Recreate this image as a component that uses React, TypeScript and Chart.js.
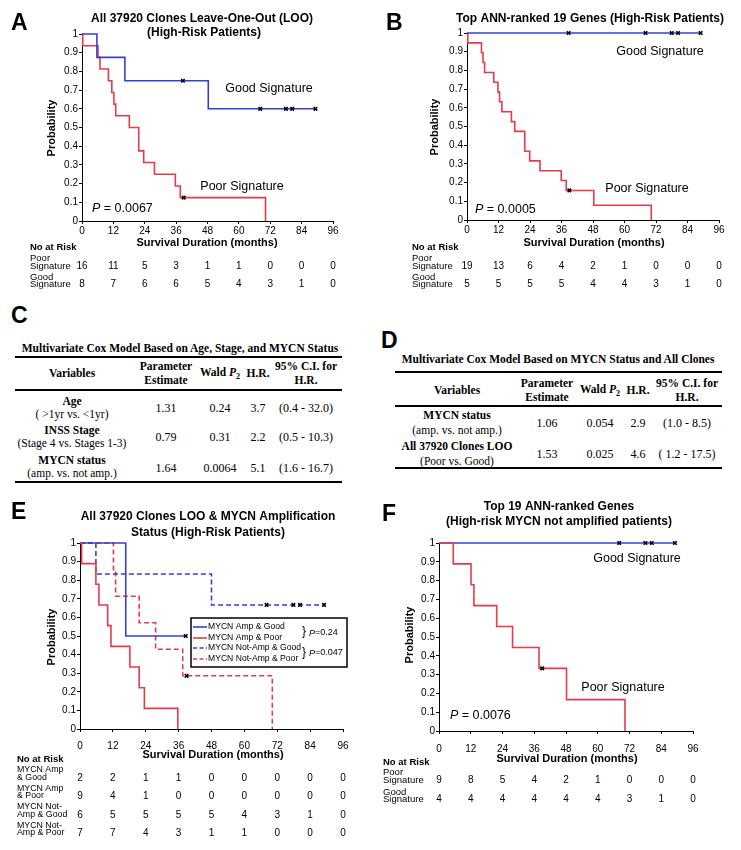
import React, { useEffect, useRef } from 'react';
import { Chart, registerables } from 'chart.js';

Chart.register(...registerables);

const SANS = '"Liberation Sans", Arial, Helvetica, sans-serif';
const SERIF = '"Liberation Serif", "Times New Roman", serif';
const BLUE = '#3542d0';
const RED = '#e83a4a';

// ---------- shared ----------
const MONTHS = [0, 12, 24, 36, 48, 60, 72, 84, 96];

// ---------- Panel A ----------
const A_GOOD_T = [0, 5.7, 16.4, 48.3, 89.3];
const A_GOOD_S = [1, 0.875, 0.75, 0.6, 0.6];
const A_GOOD_CENSOR = [38.6, 68.2, 78.0, 80.4, 89.3];
const A_POOR_T = [0, 0.3, 6.1, 6.9, 10.1, 11.4, 12.2, 12.9, 18.1, 21.7, 23.6, 27.7, 35.7, 37.6, 70.2];
const A_POOR_S = [1, 0.9375, 0.875, 0.8125, 0.75, 0.6875, 0.625, 0.5625, 0.5, 0.375, 0.3125, 0.25, 0.1875, 0.125, 0];
const A_POOR_CENSOR = [38.9];
const A_RISK_POOR = [16, 11, 5, 3, 1, 1, 0, 0, 0];
const A_RISK_GOOD = [8, 7, 6, 6, 5, 4, 3, 1, 0];
const A_PVALUE = '0.0067';

// ---------- Panel B ----------
const B_GOOD_T = [0, 89.0];
const B_GOOD_S = [1, 1];
const B_GOOD_CENSOR = [38.7, 68.0, 78.0, 80.4, 89.0];
const B_POOR_T = [0, 0.3, 5.5, 6.1, 6.7, 10.2, 11.8, 12.4, 13.3, 16.9, 18.2, 22.0, 23.9, 27.8, 35.9, 37.8, 48.3, 70.2];
const B_POOR_S = [1, 0.947, 0.895, 0.842, 0.789, 0.737, 0.684, 0.632, 0.579, 0.526, 0.474, 0.368, 0.316, 0.263, 0.211, 0.158, 0.079, 0];
const B_POOR_CENSOR = [39.0];
const B_RISK_POOR = [19, 13, 6, 4, 2, 1, 0, 0, 0];
const B_RISK_GOOD = [5, 5, 5, 5, 4, 4, 3, 1, 0];
const B_PVALUE = '0.0005';

// ---------- Panel C (table) ----------
const C_VARIABLES = ['Age', 'INSS Stage', 'MYCN status'];
const C_CONTRASTS = ['( >1yr vs. <1yr)', '(Stage 4 vs. Stages 1-3)', '(amp. vs. not amp.)'];
const C_ESTIMATE = ['1.31', '0.79', '1.64'];
const C_WALD_P = ['0.24', '0.31', '0.0064'];
const C_HR = ['3.7', '2.2', '5.1'];
const C_CI = ['(0.4 - 32.0)', '(0.5 - 10.3)', '(1.6 - 16.7)'];

// ---------- Panel D (table) ----------
const D_VARIABLES = ['MYCN status', 'All 37920 Clones LOO'];
const D_CONTRASTS = ['(amp. vs. not amp.)', '(Poor vs. Good)'];
const D_ESTIMATE = ['1.06', '1.53'];
const D_WALD_P = ['0.054', '0.025'];
const D_HR = ['2.9', '4.6'];
const D_CI = ['(1.0 - 8.5)', '( 1.2 - 17.5)'];

// ---------- Panel E ----------
const E_AMP_GOOD_T = [0, 16.7, 38.6];
const E_AMP_GOOD_S = [1, 0.5, 0.5];
const E_AMP_GOOD_CENSOR = [38.6];
const E_AMP_POOR_T = [0, 0.6, 5.8, 6.9, 10.1, 11.3, 18.2, 21.6, 23.5, 35.7];
const E_AMP_POOR_S = [1, 0.889, 0.778, 0.667, 0.556, 0.444, 0.333, 0.222, 0.111, 0];
const E_AMP_POOR_CENSOR: number[] = [];
const E_NOTAMP_GOOD_T = [0, 5.8, 48.0, 89.1];
const E_NOTAMP_GOOD_S = [1, 0.833, 0.667, 0.667];
const E_NOTAMP_GOOD_CENSOR = [68.1, 77.9, 80.3, 89.1];
const E_NOTAMP_POOR_T = [0, 12.2, 13.0, 21.6, 27.6, 37.5, 70.2];
const E_NOTAMP_POOR_S = [1, 0.857, 0.714, 0.571, 0.429, 0.286, 0];
const E_NOTAMP_POOR_CENSOR = [38.9];
const E_RISK_AMP_GOOD = [2, 2, 1, 1, 0, 0, 0, 0, 0];
const E_RISK_AMP_POOR = [9, 4, 1, 0, 0, 0, 0, 0, 0];
const E_RISK_NOTAMP_GOOD = [6, 5, 5, 5, 5, 4, 3, 1, 0];
const E_RISK_NOTAMP_POOR = [7, 7, 4, 3, 1, 1, 0, 0, 0];
const E_LEGEND = ['MYCN Amp & Good', 'MYCN Amp & Poor', 'MYCN Not-Amp & Good', 'MYCN Not-Amp & Poor'];
const E_PVALUES = ['0.24', '0.047'];

// ---------- Panel F ----------
const F_GOOD_T = [0, 89.2];
const F_GOOD_S = [1, 1];
const F_GOOD_CENSOR = [68.1, 78.0, 80.4, 89.2];
const F_POOR_T = [0, 5.4, 12.1, 13.2, 21.8, 27.8, 37.8, 48.2, 70.3];
const F_POOR_S = [1, 0.889, 0.778, 0.667, 0.556, 0.444, 0.333, 0.167, 0];
const F_POOR_CENSOR = [39.0];
const F_RISK_POOR = [9, 8, 5, 4, 2, 1, 0, 0, 0];
const F_RISK_GOOD = [4, 4, 4, 4, 4, 4, 3, 1, 0];
const F_PVALUE = '0.0076';

// ---------- helpers ----------
type Series = { t: number[]; s: number[]; censor: number[]; color: string; dash?: boolean };
type XOf = (t: number) => number;
type Panel = {
  left: number; top: number; width: number; height: number;
  area: [number, number, number, number];
  xPad: number;
  series: Series[];
  draw: (ctx: CanvasRenderingContext2D, xOf: XOf) => void;
};

function survAt(t: number[], s: number[], x: number) {
  let v = s[0];
  for (let i = 0; i < t.length; i++) if (t[i] <= x) v = s[i];
  return v;
}

function text(
  ctx: CanvasRenderingContext2D, s: string, x: number, y: number, size: number,
  o: { bold?: boolean; italic?: boolean; align?: CanvasTextAlign } = {}
) {
  ctx.font = `${o.italic ? 'italic ' : ''}${o.bold ? 'bold ' : ''}${size}px ${SANS}`;
  ctx.textAlign = o.align || 'left';
  ctx.textBaseline = 'middle';
  ctx.fillStyle = '#000';
  ctx.fillText(s, x, y);
}

function vText(ctx: CanvasRenderingContext2D, s: string, x: number, y: number, size: number) {
  ctx.save();
  ctx.translate(x, y);
  ctx.rotate(-Math.PI / 2);
  text(ctx, s, 0, 0, size, { bold: true, align: 'center' });
  ctx.restore();
}

function pValue(ctx: CanvasRenderingContext2D, value: string, x: number, y: number, size: number, sep = ' = ') {
  text(ctx, 'P', x, y, size, { italic: true });
  ctx.font = `italic ${size}px ${SANS}`;
  const w = ctx.measureText('P').width;
  text(ctx, sep + value, x + w, y, size);
}

type RiskRow = { labels: [string, number][]; values: number[]; y: number };
function riskTable(
  ctx: CanvasRenderingContext2D, xOf: XOf, labelX: number, headerY: number,
  rows: RiskRow[], labelSize: number
) {
  text(ctx, 'No at Risk', labelX, headerY, 9.5, { bold: true });
  rows.forEach((r) => {
    r.labels.forEach(([s, y]) => text(ctx, s, labelX, y, labelSize));
    r.values.forEach((v, i) => text(ctx, String(v), xOf(MONTHS[i]), r.y, 10, { align: 'center' }));
  });
}

function buildConfig(p: Panel): any {
  const [l, t, r, b] = p.area;
  const datasets: any[] = [];
  p.series.forEach((s) => {
    datasets.push({
      data: s.t.map((x, i) => ({ x, y: s.s[i] })),
      borderColor: s.color,
      borderWidth: 1.6,
      borderDash: s.dash ? [5, 3] : [],
      stepped: true,
      pointRadius: 0,
      fill: false,
      clip: false,
      order: 1,
    });
  });
  p.series.forEach((s) => {
    if (!s.censor.length) return;
    datasets.push({
      data: s.censor.map((x) => ({ x, y: survAt(s.t, s.s, x) })),
      showLine: false,
      pointStyle: 'crossRot',
      pointRadius: 2.5,
      borderColor: '#000',
      backgroundColor: '#000',
      borderWidth: 1.6,
      clip: false,
      order: 0,
    });
  });
  const yW = l - p.left;
  const xH = p.top + p.height - b;
  const extras = {
    id: 'extras',
    afterDraw(chart: any) {
      const ctx = chart.ctx as CanvasRenderingContext2D;
      const xs = chart.scales.x;
      ctx.save();
      ctx.translate(-p.left, -p.top);
      p.draw(ctx, (tv: number) => xs.getPixelForValue(tv) + p.left);
      ctx.restore();
    },
  };
  return {
    type: 'line',
    data: { datasets },
    options: {
      animation: false,
      responsive: false,
      devicePixelRatio: 1,
      events: [],
      layout: { padding: { left: 0, top: t - p.top, right: p.left + p.width - r, bottom: 0 } },
      plugins: { legend: { display: false }, tooltip: { enabled: false }, title: { display: false } },
      scales: {
        x: {
          type: 'linear', min: 0, max: 96,
          ticks: { stepSize: 12, color: '#000', font: { size: 10, family: SANS }, padding: p.xPad, maxRotation: 0, autoSkip: false },
          grid: { drawOnChartArea: false, drawTicks: true, tickLength: 3, color: '#000' },
          border: { display: true, color: '#000', width: 1 },
          afterFit: (sc: any) => { sc.height = xH; sc.paddingLeft = 0; sc.paddingRight = 0; },
        },
        y: {
          type: 'linear', min: 0, max: 1,
          ticks: {
            stepSize: 0.1, color: '#000', font: { size: 10, family: SANS }, padding: 1,
            callback: (v: any) => String(Math.round(Number(v) * 10) / 10),
          },
          grid: { drawOnChartArea: false, drawTicks: true, tickLength: 3, color: '#000' },
          border: { display: true, color: '#000', width: 1 },
          afterFit: (sc: any) => { sc.width = yW; sc.paddingTop = 0; sc.paddingBottom = 0; },
        },
      },
    },
    plugins: [extras],
  };
}

// ---------- panel specs ----------
const PANEL_A: Panel = {
  left: 0, top: 0, width: 370, height: 300,
  area: [82, 34, 333, 221], xPad: 1,
  series: [
    { t: A_GOOD_T, s: A_GOOD_S, censor: A_GOOD_CENSOR, color: BLUE },
    { t: A_POOR_T, s: A_POOR_S, censor: A_POOR_CENSOR, color: RED },
  ],
  draw: (ctx, xOf) => {
    text(ctx, 'A', 11, 24, 23, { bold: true });
    text(ctx, 'All 37920 Clones Leave-One-Out (LOO)', 202, 19, 12, { bold: true, align: 'center' });
    text(ctx, '(High-Risk Patients)', 204, 33, 12, { bold: true, align: 'center' });
    vText(ctx, 'Probability', 52, 128, 11);
    text(ctx, 'Survival Duration (months)', 207, 243, 11, { bold: true, align: 'center' });
    text(ctx, 'Good Signature', 269, 89, 12.5, { align: 'center' });
    text(ctx, 'Poor Signature', 242, 187, 12.5, { align: 'center' });
    pValue(ctx, A_PVALUE, 92, 209, 12.5);
    riskTable(ctx, xOf, 30, 247, [
      { labels: [['Poor', 258], ['Signature', 266]], values: A_RISK_POOR, y: 266 },
      { labels: [['Good', 277], ['Signature', 284]], values: A_RISK_GOOD, y: 284 },
    ], 9.5);
  },
};

const PANEL_B: Panel = {
  left: 370, top: 0, width: 371, height: 300,
  area: [467, 33, 719, 220], xPad: 1.5,
  series: [
    { t: B_GOOD_T, s: B_GOOD_S, censor: B_GOOD_CENSOR, color: BLUE },
    { t: B_POOR_T, s: B_POOR_S, censor: B_POOR_CENSOR, color: RED },
  ],
  draw: (ctx, xOf) => {
    text(ctx, 'B', 386, 24, 23, { bold: true });
    text(ctx, 'Top ANN-ranked 19 Genes (High-Risk Patients)', 590, 19, 12, { bold: true, align: 'center' });
    vText(ctx, 'Probability', 435, 127, 11);
    text(ctx, 'Survival Duration (months)', 594, 243, 11, { bold: true, align: 'center' });
    text(ctx, 'Good Signature', 660, 52, 12.5, { align: 'center' });
    text(ctx, 'Poor Signature', 647, 189, 12.5, { align: 'center' });
    pValue(ctx, B_PVALUE, 475, 210, 12.5);
    riskTable(ctx, xOf, 412, 247, [
      { labels: [['Poor', 258], ['Signature', 266]], values: B_RISK_POOR, y: 266 },
      { labels: [['Good', 277], ['Signature', 284]], values: B_RISK_GOOD, y: 284 },
    ], 9.5);
  },
};

const PANEL_E: Panel = {
  left: 0, top: 495, width: 370, height: 355,
  area: [80, 543, 343, 729], xPad: 8,
  series: [
    { t: E_AMP_POOR_T, s: E_AMP_POOR_S, censor: E_AMP_POOR_CENSOR, color: RED },
    { t: E_AMP_GOOD_T, s: E_AMP_GOOD_S, censor: E_AMP_GOOD_CENSOR, color: BLUE },
    { t: E_NOTAMP_GOOD_T, s: E_NOTAMP_GOOD_S, censor: E_NOTAMP_GOOD_CENSOR, color: BLUE, dash: true },
    { t: E_NOTAMP_POOR_T, s: E_NOTAMP_POOR_S, censor: E_NOTAMP_POOR_CENSOR, color: RED, dash: true },
  ],
  draw: (ctx, xOf) => {
    text(ctx, 'E', 11, 513, 23, { bold: true });
    text(ctx, 'All 37920 Clones LOO & MYCN Amplification', 208, 517, 12, { bold: true, align: 'center' });
    text(ctx, 'Status (High-Risk Patients)', 208, 533, 12, { bold: true, align: 'center' });
    vText(ctx, 'Probability', 52, 637, 11);
    text(ctx, 'Survival Duration (months)', 213, 755, 11, { bold: true, align: 'center' });
    // legend
    ctx.save();
    ctx.fillStyle = '#fff';
    ctx.fillRect(191, 618, 156, 49);
    ctx.strokeStyle = '#000';
    ctx.lineWidth = 1.5;
    ctx.strokeRect(191, 618, 156, 49);
    const ys = [627, 638, 648, 659];
    const styles = [
      { c: BLUE, d: false }, { c: RED, d: false }, { c: BLUE, d: true }, { c: RED, d: true },
    ];
    E_LEGEND.forEach((lab, i) => {
      ctx.beginPath();
      ctx.strokeStyle = styles[i].c;
      ctx.lineWidth = 1.6;
      ctx.setLineDash(styles[i].d ? [4, 2.5] : []);
      ctx.moveTo(193, ys[i]);
      ctx.lineTo(207, ys[i]);
      ctx.stroke();
      ctx.setLineDash([]);
      text(ctx, lab, 208, ys[i], 8.6);
    });
    text(ctx, '}', 302, 632, 12);
    text(ctx, '}', 302, 653, 12);
    pValue(ctx, E_PVALUES[0], 309, 633, 9, '=');
    pValue(ctx, E_PVALUES[1], 309, 653, 9, '=');
    ctx.restore();
    riskTable(ctx, xOf, 17, 759, [
      { labels: [['MYCN Amp', 770], ['& Good', 778]], values: E_RISK_AMP_GOOD, y: 778 },
      { labels: [['MYCN Amp', 789], ['& Poor', 796]], values: E_RISK_AMP_POOR, y: 796 },
      { labels: [['MYCN Not-', 807], ['Amp & Good', 815]], values: E_RISK_NOTAMP_GOOD, y: 815 },
      { labels: [['MYCN Not-', 826], ['Amp & Poor', 833]], values: E_RISK_NOTAMP_POOR, y: 833 },
    ], 8.8);
  },
};

const PANEL_F: Panel = {
  left: 370, top: 495, width: 371, height: 355,
  area: [439, 543, 693, 731], xPad: 9,
  series: [
    { t: F_POOR_T, s: F_POOR_S, censor: F_POOR_CENSOR, color: RED },
    { t: F_GOOD_T, s: F_GOOD_S, censor: F_GOOD_CENSOR, color: BLUE },
  ],
  draw: (ctx, xOf) => {
    text(ctx, 'F', 382, 515, 23, { bold: true });
    text(ctx, 'Top 19 ANN-ranked Genes', 559, 507, 12, { bold: true, align: 'center' });
    text(ctx, '(High-risk MYCN not amplified patients)', 559, 522, 12, { bold: true, align: 'center' });
    vText(ctx, 'Probability', 410, 635, 11);
    text(ctx, 'Survival Duration (months)', 567, 759, 11, { bold: true, align: 'center' });
    text(ctx, 'Good Signature', 637, 559, 12.5, { align: 'center' });
    text(ctx, 'Poor Signature', 623, 688, 12.5, { align: 'center' });
    pValue(ctx, F_PVALUE, 450, 716, 12.5);
    riskTable(ctx, xOf, 383, 762, [
      { labels: [['Poor', 772], ['Signature', 780]], values: F_RISK_POOR, y: 780 },
      { labels: [['Good', 792], ['Signature', 799]], values: F_RISK_GOOD, y: 799 },
    ], 9.5);
  },
};

// ---------- components ----------
function KMChart({ panel }: { panel: Panel }) {
  const ref = useRef<HTMLCanvasElement>(null);
  useEffect(() => {
    const chart = new Chart(ref.current as HTMLCanvasElement, buildConfig(panel));
    return () => chart.destroy();
  }, [panel]);
  return (
    <canvas
      ref={ref}
      width={panel.width}
      height={panel.height}
      style={{ position: 'absolute', left: panel.left, top: panel.top, width: panel.width, height: panel.height }}
    />
  );
}

function T({ x, y, children, size = 11, bold = false, align = 'center', family = SERIF }: any) {
  return (
    <div
      style={{
        position: 'absolute', left: x, top: y,
        transform: align === 'center' ? 'translate(-50%,-50%)' : 'translate(0,-50%)',
        fontFamily: family, fontSize: size, fontWeight: bold ? 'bold' : 'normal',
        whiteSpace: 'nowrap', lineHeight: 1, color: '#000',
      }}
    >
      {children}
    </div>
  );
}

function HLine({ x1, x2, y, w }: { x1: number; x2: number; y: number; w: number }) {
  return <div style={{ position: 'absolute', left: x1, top: y - w / 2, width: x2 - x1, height: w, background: '#000' }} />;
}

const WaldHeader = () => (
  <span>Wald <i>P</i><sub style={{ fontSize: 8, verticalAlign: 'sub' }}>2</sub></span>
);

type TableLayout = {
  letter: string; letterX: number; letterY: number;
  title: string; titleX: number; titleY: number;
  x1: number; x2: number; topLine: number; headLine: number; bottomLine: number;
  headY: number; cols: number[];
  rows: { name: number; sub: number; val: number }[];
  variables: string[]; contrasts: string[]; est: string[]; wald: string[]; hr: string[]; ci: string[];
};

function CoxTable({ L }: { L: TableLayout }) {
  const [cv, ce, cw, ch, cc] = L.cols;
  return (
    <>
      <T x={L.letterX} y={L.letterY} size={23} bold align="left" family={SANS}>{L.letter}</T>
      <T x={L.titleX} y={L.titleY} size={11.5} bold>{L.title}</T>
      <HLine x1={L.x1} x2={L.x2} y={L.topLine} w={2.5} />
      <T x={cv} y={L.headY} size={11.5} bold>Variables</T>
      <T x={ce} y={L.headY - 7} size={11.5} bold>Parameter</T>
      <T x={ce} y={L.headY + 7} size={11.5} bold>Estimate</T>
      <T x={cw} y={L.headY} size={11.5} bold><WaldHeader /></T>
      <T x={ch} y={L.headY} size={11.5} bold>H.R.</T>
      <T x={cc} y={L.headY - 7} size={11.5} bold>95% C.I. for</T>
      <T x={cc} y={L.headY + 7} size={11.5} bold>H.R.</T>
      <HLine x1={L.x1} x2={L.x2} y={L.headLine} w={1.5} />
      {L.rows.map((r, i) => (
        <React.Fragment key={i}>
          <T x={cv} y={r.name} size={11.5} bold>{L.variables[i]}</T>
          <T x={cv} y={r.sub} size={11.5}>{L.contrasts[i]}</T>
          <T x={ce} y={r.val} size={12}>{L.est[i]}</T>
          <T x={cw} y={r.val} size={12}>{L.wald[i]}</T>
          <T x={ch} y={r.val} size={12}>{L.hr[i]}</T>
          <T x={cc} y={r.val} size={12}>{L.ci[i]}</T>
        </React.Fragment>
      ))}
      <HLine x1={L.x1} x2={L.x2} y={L.bottomLine} w={2.5} />
    </>
  );
}

const TABLE_C: TableLayout = {
  letter: 'C', letterX: 11, letterY: 315,
  title: 'Multivariate Cox Model Based on Age, Stage, and MYCN Status', titleX: 180, titleY: 349,
  x1: 15, x2: 342, topLine: 357, headLine: 390, bottomLine: 482,
  headY: 374, cols: [72, 166, 220, 258, 306],
  rows: [{ name: 402, sub: 415, val: 408 }, { name: 431, sub: 444, val: 437 }, { name: 461, sub: 474, val: 468 }],
  variables: C_VARIABLES, contrasts: C_CONTRASTS, est: C_ESTIMATE, wald: C_WALD_P, hr: C_HR, ci: C_CI,
};

const TABLE_D: TableLayout = {
  letter: 'D', letterX: 381, letterY: 340,
  title: 'Multivariate Cox Model Based on MYCN Status and All Clones', titleX: 558, titleY: 360,
  x1: 395, x2: 722, topLine: 372, headLine: 406, bottomLine: 468,
  headY: 391, cols: [457, 547, 600, 638, 687],
  rows: [{ name: 416, sub: 431, val: 423 }, { name: 447, sub: 462, val: 454 }],
  variables: D_VARIABLES, contrasts: D_CONTRASTS, est: D_ESTIMATE, wald: D_WALD_P, hr: D_HR, ci: D_CI,
};

export default function App() {
  return (
    <div style={{ position: 'absolute', left: 0, top: 0, width: 741, height: 850, background: '#fff', overflow: 'hidden' }}>
      <KMChart panel={PANEL_A} />
      <KMChart panel={PANEL_B} />
      <CoxTable L={TABLE_C} />
      <CoxTable L={TABLE_D} />
      <KMChart panel={PANEL_E} />
      <KMChart panel={PANEL_F} />
    </div>
  );
}
